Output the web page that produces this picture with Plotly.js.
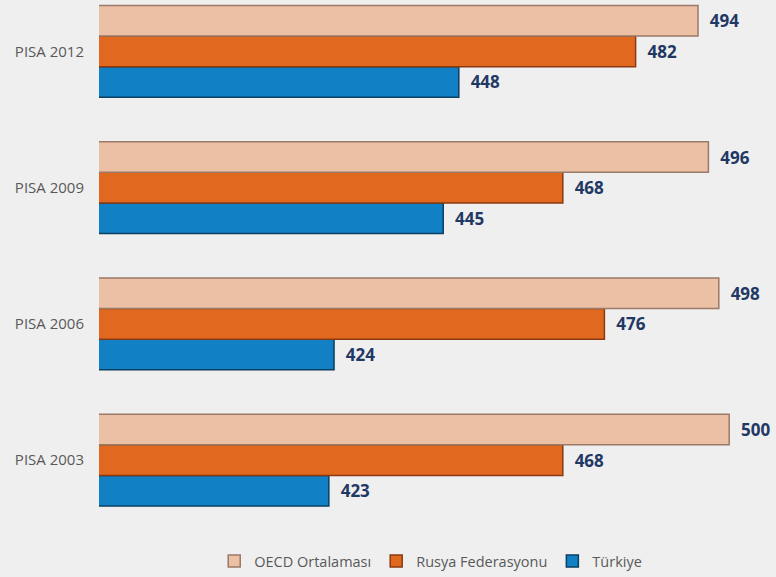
<!DOCTYPE html>
<html>
<head>
<meta charset="utf-8">
<script src="https://cdn.plot.ly/plotly-3.0.1.min.js"></script>
<style>html,body{margin:0;padding:0;background:#efefef;}#chart{width:776px;height:577px;}</style>
</head>
<body>
<div id="chart"></div>
<script>
const categories = ['PISA 2003', 'PISA 2006', 'PISA 2009', 'PISA 2012'];
const oecd = [500, 498, 496, 494];
const rusya = [468, 476, 468, 482];
const turkiye = [423, 424, 445, 448];
const seriesNames = ['OECD Ortalaması', 'Rusya Federasyonu', 'Türkiye'];

function barTrace(name, values, fill, edge) {
  return {
    type: 'bar', orientation: 'h', name: name,
    y: categories, x: values,
    text: values.map(v => '\u00a0\u00a0' + v),
    textposition: 'outside', cliponaxis: false,
    textfont: {family: 'Open Sans, sans-serif', size: 17, color: '#1f3864', weight: 'bold'},
    marker: {color: fill, line: {color: edge, width: 1.5}},
    hoverinfo: 'x+name'
  };
}

const traces = [
  barTrace(seriesNames[2], turkiye, '#1180c4', '#0b3f63'),
  barTrace(seriesNames[1], rusya, '#e0691f', '#8b3a10'),
  barTrace(seriesNames[0], oecd, '#ecc0a4', '#9a7a68')
];

const layout = {
  width: 776, height: 577,
  paper_bgcolor: '#efefef', plot_bgcolor: '#efefef',
  margin: {l: 99, r: 0, t: 0, b: 57},
  barmode: 'group', bargap: 0.326, bargroupgap: 0,
  showlegend: true,
  legend: {orientation: 'h', traceorder: 'reversed', x: 0.49, xanchor: 'center', y: -0.081, yanchor: 'middle',
           itemwidth: 30,
           font: {family: 'Open Sans, sans-serif', size: 14.5, color: '#595959'}, bgcolor: 'rgba(0,0,0,0)'},
  xaxis: {range: [378.8, 509], visible: false, fixedrange: true},
  yaxis: {type: 'category', range: [-0.432, 3.377], showgrid: false, zeroline: false, showline: false,
          ticks: '', ticklabelstandoff: 14,
          tickfont: {family: 'Open Sans, sans-serif', size: 15, color: '#595959'}},
  font: {family: 'Open Sans, sans-serif'}
};

Plotly.newPlot('chart', traces, layout, {displayModeBar: false, staticPlot: true});
</script>
</body>
</html>
